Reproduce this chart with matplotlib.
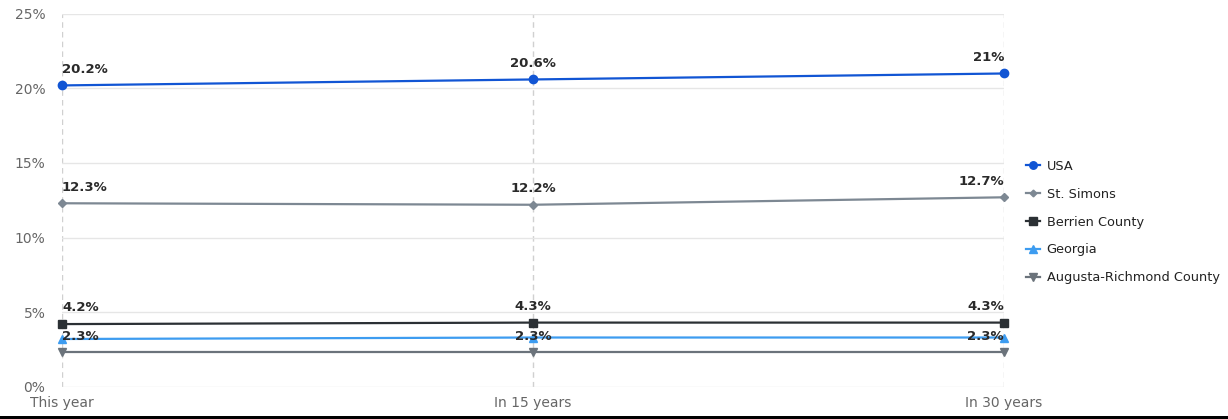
import matplotlib.pyplot as plt
from matplotlib.patches import Rectangle
from matplotlib.ticker import FuncFormatter

periods = ['This year', 'In 15 years', 'In 30 years']

usa = [20.2, 20.6, 21.0]
st_simons = [12.3, 12.2, 12.7]
berrien = [4.2, 4.3, 4.3]
georgia = [3.2, 3.3, 3.3]
augusta = [2.3, 2.3, 2.3]

series = [
    # name, values, color, marker, marker size, show labels
    ('USA', usa, '#1155d4', 'o', 6, True),
    ('St. Simons', st_simons, '#7d8893', 'D', 3.8, True),
    ('Berrien County', berrien, '#2b3034', 's', 6, True),
    ('Georgia', georgia, '#3d9cf0', '^', 6, False),
    ('Augusta-Richmond County', augusta, '#6b737b', 'v', 6, True),
]

plt.rcParams['font.family'] = ['DejaVu Sans']

fig = plt.figure(figsize=(12.28, 4.19), dpi=100)
ax = fig.add_axes([0.0505, 0.077, 0.767, 0.89])

x = list(range(len(periods)))

for name, vals, color, marker, ms, show in series:
    ax.plot(x, vals, color=color, lw=1.6, marker=marker, ms=ms,
            label=name, zorder=3, clip_on=False)
    if not show:
        continue
    for i, v in enumerate(vals):
        ha = 'left' if i == 0 else ('right' if i == len(vals) - 1 else 'center')
        txt = f'{v:g}%'
        ax.annotate(txt, (i, v), xytext=(0, 7), textcoords='offset points',
                    ha=ha, va='bottom', fontsize=9.5, color='#2a2a2a',
                    fontweight='semibold', zorder=4)

ax.set_xlim(0, 2)
ax.set_ylim(0, 25)
ax.set_yticks([0, 5, 10, 15, 20, 25])
ax.yaxis.set_major_formatter(FuncFormatter(lambda v, p: f'{v:g}%'))
ax.set_xticks(x)
ax.set_xticklabels(periods)

ax.grid(axis='y', color='#e6e6e6', lw=1, ls='-')
ax.grid(axis='x', color='#d0d0d0', lw=1, ls=(0, (4, 3)))
ax.set_axisbelow(True)
for s in ax.spines.values():
    s.set_visible(False)
ax.tick_params(length=0, labelsize=10, colors='#666666')
ax.tick_params(axis='y', pad=12)
ax.tick_params(axis='x', pad=7)

leg = fig.legend(loc='center left', bbox_to_anchor=(0.826, 0.47), frameon=False,
                 prop={'size': 9.3}, labelspacing=1.15,
                 handlelength=1.1, handletextpad=0.5, markerscale=0.9)
for t in leg.get_texts():
    t.set_color('#222222')

# dark strip along the lower edge
fig.add_artist(Rectangle((0, 0), 1, 3 / 419, transform=fig.transFigure,
                         color='black', lw=0))

fig.savefig('out.png', dpi=100)
